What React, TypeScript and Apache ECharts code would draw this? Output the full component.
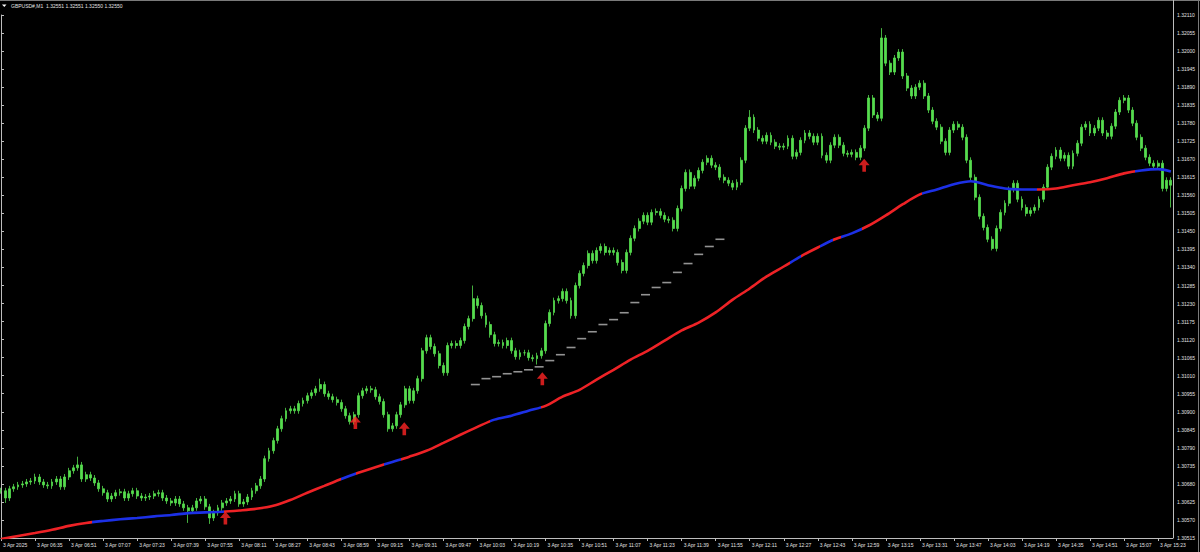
import React, { useEffect, useRef } from 'react';
import * as echarts from 'echarts';

// GBPUSD#, M1, 3 Apr 2025 from 06:19. Prices are in points (0.00001) above 1.30000
const BASE = 130000;
const START_MINUTE = 6 * 60 + 19;
const BAR_STEP = 2; // one candle every 2 minutes

const closes: number[] = [
  659, 637, 665, 671, 677, 680, 686, 689, 701, 686, 677, 674, 686, 695, 671, 701, 720, 729, 738, 695,
  708, 698, 683, 665, 653, 634, 643, 653, 656, 637, 650, 659, 643, 637, 640, 643, 650, 653, 637, 628,
  622, 634, 619, 607, 598, 607, 628, 634, 610, 576, 592, 607, 622, 628, 634, 650, 619, 625, 640, 659,
  674, 695, 757, 781, 812, 848, 879, 903, 909, 903, 925, 934, 949, 958, 970, 983, 955, 946, 937, 928,
  909, 888, 870, 891, 949, 964, 970, 967, 946, 931, 891, 848, 857, 891, 921, 970, 934, 964, 1001, 1086,
  1126, 1099, 1077, 1041, 1019, 1102, 1108, 1102, 1117, 1160, 1184, 1245, 1224, 1193, 1166, 1135, 1108, 1111, 1102, 1117,
  1086, 1068, 1080, 1080, 1065, 1062, 1071, 1086, 1169, 1203, 1239, 1245, 1267, 1239, 1193, 1285, 1322, 1346, 1383, 1361,
  1392, 1404, 1386, 1392, 1386, 1355, 1331, 1386, 1429, 1459, 1481, 1499, 1478, 1508, 1511, 1499, 1487, 1484, 1459, 1520,
  1581, 1630, 1588, 1612, 1636, 1661, 1673, 1652, 1646, 1615, 1606, 1597, 1585, 1600, 1667, 1765, 1798, 1759, 1734, 1725,
  1743, 1722, 1710, 1707, 1710, 1734, 1679, 1691, 1728, 1750, 1740, 1722, 1740, 1682, 1667, 1713, 1737, 1713, 1688, 1685,
  1691, 1676, 1704, 1765, 1857, 1805, 1795, 2040, 1963, 1936, 1979, 1997, 1924, 1887, 1863, 1890, 1902, 1863, 1820, 1786,
  1768, 1725, 1691, 1759, 1777, 1768, 1737, 1667, 1615, 1554, 1496, 1462, 1426, 1398, 1459, 1508, 1536, 1578, 1597, 1548,
  1523, 1505, 1514, 1523, 1548, 1585, 1646, 1679, 1698, 1673, 1682, 1649, 1688, 1719, 1768, 1777, 1750, 1765, 1789, 1750,
  1740, 1771, 1814, 1850, 1857, 1820, 1780, 1737, 1704, 1676, 1658, 1649, 1658, 1581, 1606, 1591,
];

// long wicks that stick out of the bodies (candle index -> price)
const spikeHigh: Record<number, number> = { 8: 711, 18: 763, 75: 1001, 111: 1285, 176: 1820, 207: 2070 };
const spikeLow: Record<number, number> = { 1: 622, 44: 561, 49: 558, 126: 1044, 233: 1392, 275: 1523 };
const WICK = 9;

// moving average, every 8 minutes
const maMinutes: number[] = [
  0, 8, 16, 24, 32, 40, 48, 56, 64, 72, 80, 88, 96, 104, 112, 120, 128, 136, 144, 152,
  160, 168, 176, 184, 192, 200, 208, 216, 224, 232, 240, 248, 256, 264, 272, 280, 288, 296, 304, 312,
  320, 328, 336, 344, 352, 360, 368, 376, 384, 392, 400, 408, 416, 424, 432, 440, 448, 456, 464, 472,
  480, 488, 496, 504, 512, 520, 528, 536, 544, 550,
];
const maValues: number[] = [
  512, 521, 530, 540, 552, 561, 567, 572, 576, 581, 585, 591, 593, 595, 599, 604, 613, 631, 653, 674,
  695, 714, 731, 747, 763, 781, 805, 830, 854, 876, 888, 903, 918, 946, 967, 998, 1028, 1059, 1086, 1117,
  1148, 1172, 1203, 1242, 1276, 1313, 1343, 1374, 1401, 1426, 1444, 1468, 1499, 1533, 1563, 1578, 1594, 1603, 1591, 1581,
  1578, 1578, 1581, 1591, 1600, 1612, 1627, 1636, 1640, 1633,
];
// stretches (in minutes) where the average is drawn blue instead of red
const maBlue: [number, number][] = [
  [43, 105], [160, 167], [180, 188], [230, 254], [371, 376], [385, 391], [395, 405], [433, 487], [533, 552],
];

// buy arrows
const arrowMinutes = [105.5, 166.6, 189.6, 254.5, 405.8];
const arrowPrices = [576, 867, 848, 1001, 1652];

// grey step indicator
const dashMinutes = [
  223, 228, 233, 238, 243, 248, 253, 258, 263, 268, 273, 278, 283, 288, 293, 298, 303, 308, 313, 318, 323, 328, 333, 338,
];
const dashPrices = [
  983, 1001, 1007, 1016, 1022, 1028, 1037, 1056, 1074, 1096, 1123, 1144, 1166, 1181, 1202, 1233, 1257, 1279, 1294, 1325,
  1352, 1380, 1404, 1426,
];

const Y_MIN = 515;
const Y_MAX = 2110;
const Y_STEP = 55;
const X_MAX = 551;
const X_STEP = 16;
const headerText = 'GBPUSD#,M1  1.32551 1.32551 1.32550 1.32550';

const pad = (n: number) => (n < 10 ? '0' + n : '' + n);
const timeLabel = (m: number): string => {
  if (m === 0) return '3 Apr 2025';
  if (m % X_STEP !== 0) return '';
  const t = START_MINUTE + m;
  return `3 Apr ${pad(Math.floor(t / 60))}:${pad(t % 60)}`;
};

const GREEN = '#56dc4e';
const RED = '#ee2226';
const BLUE = '#1c30e6';
const AXIS = '#bdbdbd';
const TEXT = '#e2e2e2';
const FONT = '"Liberation Sans", Arial, sans-serif';

const App: React.FC = () => {
  const chartRef = useRef<HTMLDivElement>(null);

  useEffect(() => {
    if (!chartRef.current) return;
    const chart = echarts.init(chartRef.current, undefined, { renderer: 'svg' });

    const candles = closes.map((c, i) => {
      const o = i === 0 ? c : closes[i - 1];
      const hi = spikeHigh[i] ?? Math.max(o, c) + WICK;
      const lo = spikeLow[i] ?? Math.min(o, c) - WICK;
      return [i * BAR_STEP, BASE + o, BASE + c, BASE + lo, BASE + hi];
    });

    const option = {
      animation: false,
      backgroundColor: '#000000',
      grid: { left: 0.5, right: 27, top: 15, bottom: 14, containLabel: false },
      xAxis: {
        type: 'value',
        min: 0,
        max: X_MAX,
        interval: X_STEP,
        axisLine: { show: true, lineStyle: { color: AXIS, width: 1 } },
        axisTick: { show: true, length: 3, inside: false, lineStyle: { color: AXIS } },
        splitLine: { show: false },
        axisLabel: {
          formatter: timeLabel,
          color: TEXT,
          fontSize: 5,
          fontFamily: FONT,
          align: 'left',
          margin: 4,
          padding: [0, 0, 0, 2],
          hideOverlap: false,
          showMaxLabel: false,
        },
      },
      yAxis: {
        type: 'value',
        position: 'right',
        min: BASE + Y_MIN,
        max: BASE + Y_MAX,
        interval: Y_STEP,
        scale: true,
        axisLine: { show: true, lineStyle: { color: AXIS, width: 1 } },
        axisTick: { show: true, length: 3, lineStyle: { color: AXIS } },
        splitLine: { show: false },
        axisLabel: {
          formatter: (v: number) => (v / 100000).toFixed(5),
          color: TEXT,
          fontSize: 5,
          fontFamily: FONT,
          margin: 4,
        },
      },
      visualMap: {
        type: 'piecewise',
        show: false,
        dimension: 0,
        seriesIndex: 1,
        pieces: maBlue.map(([a, b]) => ({ gte: a, lt: b, color: BLUE })),
        outOfRange: { color: RED },
      },
      series: [
        {
          name: 'GBPUSD',
          type: 'candlestick',
          data: candles,
          encode: { x: 0, y: [1, 2, 3, 4] },
          barWidth: 2.4,
          itemStyle: {
            color: GREEN,
            color0: GREEN,
            borderColor: GREEN,
            borderColor0: GREEN,
            borderWidth: 0.8,
          },
          z: 2,
        },
        {
          name: 'MA',
          type: 'line',
          data: maMinutes.map((m, i) => [m, BASE + maValues[i]]),
          smooth: 0.3,
          showSymbol: false,
          lineStyle: { width: 2.6 },
          z: 3,
        },
        {
          name: 'Steps',
          type: 'scatter',
          data: dashMinutes.map((m, i) => [m, BASE + dashPrices[i]]),
          symbol: 'rect',
          symbolSize: [9, 1.6],
          itemStyle: { color: '#b8b8b8' },
          z: 2,
        },
        {
          name: 'Arrows',
          type: 'scatter',
          data: arrowMinutes.map((m, i) => [m, BASE + arrowPrices[i]]),
          symbol: 'path://M5.5,0 L11,6.5 L7.3,6.5 L7.3,13 L3.7,13 L3.7,6.5 L0,6.5 Z',
          symbolSize: [11, 13],
          itemStyle: { color: '#ff2424' },
          z: 4,
        },
      ],
      graphic: [
        { type: 'line', shape: { x1: 0, y1: 0.5, x2: 1200, y2: 0.5 }, style: { stroke: '#7a7a7a', lineWidth: 1 } },
        { type: 'line', shape: { x1: 1198.5, y1: 0, x2: 1198.5, y2: 552 }, style: { stroke: '#7a7a7a', lineWidth: 1 } },
        { type: 'line', shape: { x1: 1173.5, y1: 0, x2: 1173.5, y2: 538 }, style: { stroke: AXIS, lineWidth: 1 } },
        { type: 'polygon', shape: { points: [[2, 4.5], [6.5, 4.5], [4.25, 7]] }, style: { fill: '#ffffff' } },
        {
          type: 'text',
          x: 11,
          y: 5.8,
          style: {
            text: headerText,
            fill: TEXT,
            font: `5px ${FONT}`,
            verticalAlign: 'middle',
          },
        },
      ],
    };

    chart.setOption(option as any);
    return () => {
      chart.dispose();
    };
  }, []);

  return (
    <div
      ref={chartRef}
      style={{ position: 'fixed', left: 0, top: 0, width: 1200, height: 552, background: '#000' }}
    />
  );
};

export default App;
